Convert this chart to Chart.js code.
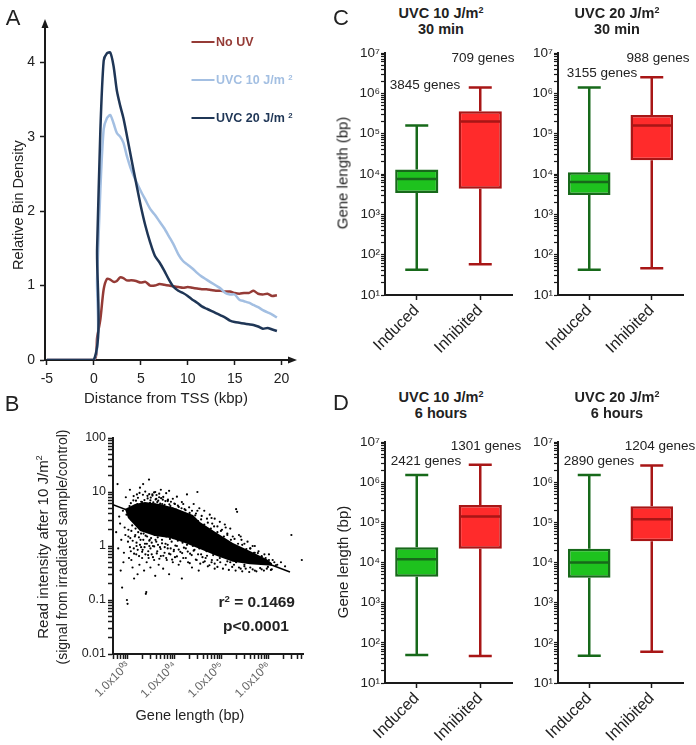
<!DOCTYPE html>
<html>
<head>
<meta charset="utf-8">
<script src="https://cdn.jsdelivr.net/npm/chart.js@4.4.1/dist/chart.umd.min.js"></script>
<style>
  html, body { margin: 0; padding: 0; background: #fff; overflow: hidden; }
  body { width: 696px; height: 745px; position: relative; font-family: "Liberation Sans", Arial, sans-serif; color: #222; }
  .txt { position: absolute; white-space: nowrap; transform: translate(-50%, -50%); line-height: 1; }
  .rot { transform: translate(-50%, -50%) rotate(-90deg); }
  .b { font-weight: bold; }
  .sup { font-size: 0.62em; vertical-align: 0.55em; }
</style>
</head>
<body>
<script>
// ── Panel A: relative bin density vs distance from TSS ─────────────────────
const distKbp  = [-5, 0, 0.35, 0.7, 1.05, 1.4, 1.75, 2.1, 2.45, 2.8, 3.15, 3.5, 4, 4.5, 5, 5.5, 6, 6.5, 7, 7.5, 8, 8.5, 9, 9.5, 10, 10.5, 11, 11.5, 12, 12.5, 13, 13.5, 14, 14.5, 15, 15.5, 16, 16.5, 17, 17.5, 18, 18.5, 19, 19.5];
const densNoUV = [0, 0, 0.3, 0.55, 0.95, 1.09, 1.08, 1.05, 1.06, 1.11, 1.1, 1.07, 1.07, 1.06, 1.04, 1.05, 1.0, 1.0, 1.02, 1.01, 1.0, 0.99, 0.98, 0.97, 0.98, 0.97, 0.96, 0.95, 0.95, 0.94, 0.93, 0.93, 0.92, 0.92, 0.9, 0.89, 0.9, 0.9, 0.93, 0.89, 0.88, 0.89, 0.86, 0.87];
const densUV10 = [0, 0, 1.1, 2.3, 3.1, 3.25, 3.29, 3.18, 3.05, 3.0, 2.92, 2.75, 2.55, 2.4, 2.27, 2.15, 2.03, 1.95, 1.86, 1.77, 1.66, 1.55, 1.42, 1.33, 1.28, 1.23, 1.17, 1.12, 1.08, 1.04, 1.0, 0.96, 0.9, 0.88, 0.88, 0.81, 0.79, 0.77, 0.74, 0.71, 0.67, 0.64, 0.61, 0.57];
const densUV20 = [0, 0, 1.5, 3.1, 4.02, 4.12, 4.13, 3.95, 3.62, 3.42, 3.25, 3.03, 2.7, 2.38, 2.07, 1.8, 1.58, 1.4, 1.31, 1.2, 1.08, 0.98, 0.93, 0.9, 0.86, 0.81, 0.77, 0.72, 0.69, 0.66, 0.63, 0.6, 0.57, 0.53, 0.51, 0.5, 0.49, 0.48, 0.47, 0.45, 0.42, 0.43, 0.41, 0.39];
const seriesNames = ['No UV', 'UVC 10 J/m <span class="sup">2</span>', 'UVC 20 J/m <span class="sup">2</span>'];

// ── Panel B: [gene length (bp), read intensity] pairs ──
const cloud = [
  [600, 14], [650, 3.5], [700, 0.35], [750, 0.17], [800, 0.5], [850, 2.2], [900, 8], [950, 0.1], [980, 0.085], [1000, 1.2],
  [1050, 0.6], [1100, 11], [1150, 0.8], [1200, 3], [1250, 0.4], [1300, 7], [1350, 0.25], [1400, 1.5], [1500, 0.7], [1550, 9],
  [1600, 0.3], [1700, 2.5], [1750, 0.45], [1800, 12], [1900, 0.95], [2000, 0.6], [2100, 14], [2200, 0.35], [2300, 1.1], [2400, 0.13],
  [2450, 0.14], [2500, 0.5], [2600, 8.5], [2700, 0.8], [2800, 17], [2900, 1.3], [3000, 0.4],
  [560, 1.8], [620, 0.9], [680, 2.6], [720, 1.3], [780, 4.5], [820, 0.75], [880, 1.6], [930, 3.8], [1020, 2.0], [1080, 5.5],
  [1120, 1.4], [1180, 0.55], [1230, 2.4], [1280, 4.2], [1330, 0.9], [1380, 3.3], [1450, 2.1], [1520, 1.0], [1580, 6], [1650, 1.8],
  [1720, 0.65], [1780, 3.0], [1850, 1.3], [1950, 2.6], [2050, 0.85], [2150, 1.7], [2250, 3.6], [2350, 0.7], [2550, 1.5], [2650, 2.1],
  [2750, 0.6], [2850, 1.0],
  [3200, 0.7], [3400, 1.0], [3600, 0.55], [3800, 0.28], [4000, 1.2], [4200, 0.8], [4500, 0.45], [4800, 0.95], [5000, 0.65], [5300, 1.3],
  [5600, 0.38], [6000, 0.75], [6300, 1.1], [6700, 0.55], [7000, 0.9], [7500, 0.3], [8000, 0.7], [8500, 1.2], [9000, 0.5], [9500, 0.85],
  [10000, 0.62], [11000, 1.0], [12000, 0.45], [13000, 0.78], [14000, 0.25], [15000, 0.6], [17000, 0.9], [19000, 0.5], [21000, 0.72], [23000, 0.4],
  [26000, 0.85], [29000, 0.55], [32000, 0.35], [36000, 0.7], [40000, 0.5], [45000, 0.6], [50000, 0.42], [60000, 0.5], [70000, 0.38], [80000, 0.55],
  [3100, 1.4], [3700, 1.6], [4300, 1.45], [5200, 1.7], [6500, 1.5], [7800, 1.35], [9200, 1.4], [11500, 1.25], [14500, 1.15], [18000, 1.05],
  [24000, 1.0], [33000, 0.9], [47000, 0.8], [65000, 0.68], [90000, 0.6], [130000, 0.52], [180000, 0.45],
  [3000, 7], [3300, 9], [3500, 5.5], [3800, 10], [4200, 6.5], [4600, 8], [5000, 11], [5500, 7.2], [6000, 5.8], [6500, 9.5],
  [7000, 6.8], [7500, 10.5], [8000, 5.5], [9000, 7.5], [10000, 6], [11000, 8.2], [12000, 5.3], [14000, 6.5], [16000, 4.8], [18000, 9],
  [20000, 5.2], [23000, 4.5], [25000, 6], [28000, 4], [30000, 10], [33000, 5], [37000, 3.6], [42000, 4.5], [48000, 3.2], [55000, 3.8],
  [62000, 2.6], [70000, 3.2], [80000, 2.3], [90000, 2.8], [100000, 2.0], [115000, 2.5], [130000, 1.7], [150000, 2.1], [170000, 1.5], [200000, 4.8],
  [210000, 4.3], [230000, 1.6], [260000, 1.3], [300000, 1.1], [350000, 1.2], [400000, 0.9], [450000, 1.0], [500000, 0.75], [600000, 0.8], [700000, 0.65],
  [800000, 0.7], [1200000, 0.55], [1500000, 0.45], [1800000, 0.5], [2200000, 0.42], [3000000, 1.6], [5000000, 0.55], [1100000, 0.36], [900000, 0.38], [700000, 0.37],
  [500000, 0.35], [400000, 0.4], [300000, 0.45], [250000, 0.38], [200000, 0.5],
  [1200, 4], [1500, 5], [1800, 3.3], [2000, 6.5], [2200, 4.2], [2600, 3], [3000, 2.7], [1400, 2.8], [1700, 3.8], [2400, 2.3],
  [3500, 2.2], [4500, 2.0], [6000, 1.8], [8000, 1.6], [12000, 1.4], [20000, 1.2], [40000, 0.95], [80000, 0.7], [150000, 0.5], [300000, 0.42],
  [4000, 7.5], [7000, 7], [15000, 6], [30000, 4.5], [60000, 3.3], [120000, 2.2], [250000, 1.5], [500000, 1.0], [1000000, 0.7],
  [1050, 4.2], [1150, 6.2], [1250, 5.1], [1320, 8.4], [1420, 4.6], [1480, 6.9], [1560, 5.4], [1630, 7.8], [1690, 4.3], [1760, 9.6],
  [1830, 5.8], [1910, 6.6], [1990, 4.9], [2080, 8.9], [2160, 5.2], [2240, 7.1], [2330, 10.2], [2420, 6.0], [2510, 4.6], [2620, 7.6],
  [2710, 5.5], [2830, 9.1], [2940, 6.3], [3060, 7.9], [3180, 5.1], [3320, 8.6], [3460, 6.4], [3590, 9.8], [3730, 5.9], [3880, 7.3],
  [4050, 8.8], [4230, 5.6], [4400, 6.9], [4620, 9.3], [4850, 6.1], [5070, 7.7], [5350, 6.0], [5620, 8.1], [5900, 5.4], [6250, 6.8],
  [6600, 5.2], [7100, 7.2], [7600, 5.9], [8200, 6.6], [8900, 5.0], [9700, 6.1], [10500, 4.7], [11500, 5.6], [12600, 4.4], [13800, 5.0],
  [15200, 3.9], [16800, 4.6], [18500, 3.6], [20500, 4.1], [23500, 3.2], [27000, 3.7], [31000, 2.9], [36000, 3.1], [42000, 2.5], [50000, 2.7],
  [58000, 2.1], [68000, 2.3], [80000, 1.8], [95000, 1.9], [110000, 1.5], [130000, 1.6], [155000, 1.3], [185000, 1.35], [220000, 1.1], [270000, 1.05],
  [330000, 0.88], [400000, 0.9], [480000, 0.75], [580000, 0.74], [700000, 0.63], [850000, 0.6], [1000000, 0.55], [1300000, 0.5],
  [1020, 1.5], [1100, 0.95], [1180, 1.9], [1260, 1.25], [1350, 0.72], [1430, 1.6], [1520, 1.15], [1610, 0.85], [1710, 1.45], [1800, 1.05],
  [1900, 1.7], [2000, 0.78], [2120, 1.3], [2250, 0.95], [2380, 1.55], [2520, 1.1], [2680, 0.68], [2840, 1.25], [3010, 0.9], [3200, 1.15],
  [3400, 0.62], [3610, 0.98], [3850, 1.3], [4100, 0.73], [4350, 1.05], [4650, 0.58], [4950, 0.88], [5300, 1.12], [5650, 0.66], [6050, 0.95],
  [6500, 0.6], [7000, 1.05], [7500, 0.72], [8100, 0.9], [8700, 0.56], [9400, 0.8], [10200, 1.02], [11000, 0.64], [12000, 0.86], [13000, 0.52],
  [14200, 0.74], [15500, 0.93], [17000, 0.6], [18700, 0.79], [20600, 0.48], [22700, 0.68], [25000, 0.82], [27800, 0.56], [31000, 0.7], [34500, 0.47],
  [38500, 0.62], [43000, 0.52], [48000, 0.66], [54000, 0.44], [61000, 0.55], [70000, 0.47], [80000, 0.41], [92000, 0.5], [105000, 0.38], [120000, 0.45],
  [140000, 0.36], [165000, 0.41], [195000, 0.35], [230000, 0.4], [270000, 0.34], [320000, 0.38], [380000, 0.33], [450000, 0.37], [540000, 0.34], [650000, 0.39],
  [780000, 0.35], [950000, 0.41], [1150000, 0.37], [1400000, 0.44]
];
// outline of the saturated (solid black) part of the cloud
const coreLen = [863, 1410, 2300, 4800, 10000, 24200, 34000, 78300, 171000, 394000, 906000, 1160000, 1160000, 394000, 171000, 78300, 34000, 16300, 7830, 3750, 1800, 1000];
const coreInt = [4.84, 6.0, 6.5, 6.0, 5.05, 3.75, 2.78, 1.74, 1.14, 0.81, 0.57, 0.48, 0.43, 0.46, 0.51, 0.65, 0.88, 1.14, 1.41, 1.53, 1.9, 3.3];
const fitLen = [480, 2800000];
const fitInt = [5.8, 0.33];

// ── Panels C/D: gene length box plots (C 10, C 20, D 10, D 20) ─────────────
const groups     = ['Induced', 'Inhibited'];
const boxMin     = [[42, 58], [42, 46], [50, 47], [48, 60]];
const boxQ1      = [[3400, 4300], [3000, 22000], [4400, 22000], [4200, 34000]];
const boxMedian  = [[7500, 200000], [6300, 160000], [12000, 140000], [10000, 120000]];
const boxQ3      = [[13000, 360000], [11000, 290000], [24000, 270000], [22000, 250000]];
const boxMax     = [[160000, 1400000], [1400000, 2500000], [1500000, 2700000], [1500000, 2600000]];
const geneCounts = [[3845, 709], [3155, 988], [2421, 1301], [2890, 1204]];

// ── Styling ───────────────────────────────────────────────────────────────
const AX = '#1a1a1a';
const lineColors = ['#953b36', '#a3bfe2', '#1f3656'];
const boxFill    = ['#1ec21e', '#ff2b2b'];
const boxEdge    = ['#17691a', '#a81616'];
Chart.defaults.font.family = '"Liberation Sans", Arial, sans-serif';
Chart.defaults.color = '#222';

const SUP = '⁰¹²³⁴⁵⁶⁷⁸⁹';
const sup = s => String(s).split('').map(c => SUP[c]).join('');
const isDecade = v => Math.abs(Math.log10(v) - Math.round(Math.log10(v))) < 1e-6;
function logTicks(lo, hi) {
  const t = [];
  for (let e = lo; e < hi; e++) for (let m = 1; m < 10; m++) t.push(m * Math.pow(10, e));
  t.push(Math.pow(10, hi));
  return t;
}

// ── Helpers ───────────────────────────────────────────────────────────────
function mkCanvas(x, y, w, h) {
  const c = document.createElement('canvas');
  c.width = w; c.height = h;
  c.style.cssText = `position:absolute;left:${x}px;top:${y}px;width:${w}px;height:${h}px`;
  document.body.appendChild(c);
  return c;
}
function txt(html, x, y, style, cls) {
  const d = document.createElement('div');
  d.className = 'txt ' + (cls || '');
  d.innerHTML = html;
  d.style.cssText = `left:${x}px;top:${y}px;` + (style || '');
  document.body.appendChild(d);
  return d;
}
function axis(extra) {
  return Object.assign({
    grid:   { drawOnChartArea: false, tickLength: 5, tickColor: AX, tickWidth: 1.5 },
    border: { color: AX, width: 2 },
  }, extra);
}
const baseOpts = (pad) => ({
  responsive: false, animation: false,
  layout: { padding: pad },
  plugins: { legend: { display: false }, tooltip: { enabled: false } },
});

// ── Plugins ───────────────────────────────────────────────────────────────
const axisArrows = {
  id: 'axisArrows',
  afterDraw(chart) {
    const { ctx, chartArea: { left, top, right, bottom } } = chart;
    ctx.save();
    ctx.fillStyle = AX;
    ctx.beginPath(); ctx.moveTo(left, top - 6); ctx.lineTo(left - 3.5, top + 3); ctx.lineTo(left + 3.5, top + 3); ctx.fill();
    ctx.beginPath(); ctx.moveTo(right + 6, bottom); ctx.lineTo(right - 3, bottom - 3.5); ctx.lineTo(right - 3, bottom + 3.5); ctx.fill();
    ctx.restore();
  }
};

const denseCore = {
  id: 'denseCore',
  beforeDatasetsDraw(chart) {
    const { ctx, scales: { x, y }, chartArea: a } = chart;
    ctx.save();
    ctx.beginPath(); ctx.rect(a.left, a.top, a.width, a.height); ctx.clip();
    ctx.fillStyle = '#000';
    ctx.beginPath();
    coreLen.forEach((v, i) => {
      const px = x.getPixelForValue(v), py = y.getPixelForValue(coreInt[i]);
      i ? ctx.lineTo(px, py) : ctx.moveTo(px, py);
    });
    ctx.closePath(); ctx.fill();
    ctx.restore();
  }
};

const boxWhiskers = {
  id: 'boxWhiskers',
  afterDatasetsDraw(chart) {
    const { ctx, scales: { x, y } } = chart;
    const ds = chart.data.datasets[0];
    const meta = chart.getDatasetMeta(0);
    const s = ds.stats;
    ctx.save();
    ctx.lineWidth = 2.5;
    s.min.forEach((lo, i) => {
      const cx = x.getPixelForValue(i);
      const half = meta.data[i].width / 2 - 1;
      const cap = 11.5;
      const yLo = y.getPixelForValue(lo), yHi = y.getPixelForValue(s.max[i]);
      const yQ1 = y.getPixelForValue(s.q1[i]), yQ3 = y.getPixelForValue(s.q3[i]);
      const yMed = y.getPixelForValue(s.med[i]);
      ctx.strokeStyle = boxEdge[i];
      ctx.beginPath();
      ctx.moveTo(cx, yLo); ctx.lineTo(cx, yQ1);
      ctx.moveTo(cx, yQ3); ctx.lineTo(cx, yHi);
      ctx.moveTo(cx - cap, yLo); ctx.lineTo(cx + cap, yLo);
      ctx.moveTo(cx - cap, yHi); ctx.lineTo(cx + cap, yHi);
      ctx.moveTo(cx - half, yMed); ctx.lineTo(cx + half, yMed);
      ctx.stroke();
    });
    ctx.restore();
  }
};

// ── Panel A ───────────────────────────────────────────────────────────────
const pts = arr => distKbp.map((d, i) => ({ x: d, y: arr[i] }));
new Chart(mkCanvas(0, 0, 310, 395), {
  type: 'scatter',
  data: {
    datasets: [densUV20, densUV10, densNoUV].map((arr, k) => ({
      data: pts(arr), showLine: true, pointRadius: 0, tension: 0.25,
      borderColor: lineColors[2 - k], borderWidth: 2.5,
    })),
  },
  options: Object.assign(baseOpts({ left: 0, top: 25, right: 19, bottom: 0 }), {
    scales: {
      x: axis({
        type: 'linear', min: -5.2, max: 21,
        afterBuildTicks: s => { s.ticks = [-5, 0, 5, 10, 15, 20].map(v => ({ value: v })); },
        afterFit: s => { s.height = 35; },
        ticks: { font: { size: 14 }, padding: 6, maxRotation: 0 },
      }),
      y: axis({
        min: 0, max: 4.5,
        afterBuildTicks: s => { s.ticks = [0, 1, 2, 3, 4].map(v => ({ value: v })); },
        afterFit: s => { s.width = 45; },
        ticks: { font: { size: 14 }, padding: 5 },
      }),
    },
  }),
  plugins: [axisArrows],
});
txt('A', 13, 18, 'font-size:22px');
txt('Relative Bin Density', 18, 205, 'font-size:14.5px', 'rot');
txt('Distance from TSS (kbp)', 166, 397, 'font-size:15px');
seriesNames.forEach((name, i) => {
  const y = 42 + i * 38;
  txt('', 203, y, `width:23px;height:0;border-top:2.5px solid ${lineColors[i]}`);
  txt(name, 216, y, `font-size:12.5px;color:${lineColors[i]};transform:translate(0,-50%)`, 'b');
});

// ── Panel B ───────────────────────────────────────────────────────────────
new Chart(mkCanvas(0, 400, 320, 300), {
  type: 'scatter',
  data: {
    datasets: [
      { data: fitLen.map((v, i) => ({ x: v, y: fitInt[i] })), showLine: true, pointRadius: 0, borderColor: '#000', borderWidth: 1.5 },
      { data: cloud.map(([len, val]) => ({ x: len, y: val })), pointRadius: 1.1, pointBorderWidth: 0, backgroundColor: '#000' },
    ],
  },
  options: Object.assign(baseOpts({ left: 0, top: 38, right: 17, bottom: 0 }), {
    scales: {
      x: axis({
        type: 'logarithmic', min: 480, max: 5.3e6,
        afterBuildTicks: s => { s.ticks = logTicks(2, 7).filter(v => v >= 480 && v <= 5.3e6).map(v => ({ value: v })); },
        afterFit: s => { s.height = 46; },
        ticks: {
          autoSkip: false, minRotation: 45, maxRotation: 45, padding: 0, color: '#666', font: { size: 12 },
          callback: v => isDecade(v) ? '1.0x10' + sup(String(Math.round(Math.log10(v))).padStart(2, '0')) : '',
        },
      }),
      y: axis({
        type: 'logarithmic', min: 0.01, max: 100,
        afterBuildTicks: s => { s.ticks = logTicks(-2, 2).map(v => ({ value: v })); },
        afterFit: s => { s.width = 113; },
        ticks: { autoSkip: false, padding: 2, font: { size: 12.5 }, callback: v => isDecade(v) ? String(+v.toPrecision(1)) : '' },
      }),
    },
  }),
  plugins: [denseCore],
});
txt('B', 12, 404, 'font-size:22px');
txt('Read intensity after 10 J/m<span class="sup">2</span>', 42, 547, 'font-size:15px', 'rot');
txt('(signal from irradiated sample/control)', 62, 547, 'font-size:14px', 'rot');
txt('Gene length (bp)', 190, 715, 'font-size:14.5px');
txt('r<span class="sup">2</span> = 0.1469', 295, 602, 'font-size:15.5px;transform:translate(-100%,-50%)', 'b');
txt('p&lt;0.0001', 256, 626, 'font-size:15.5px', 'b');

// ── Panels C / D ──────────────────────────────────────────────────────────
const boxPanels = [
  { x: 335, y: 40,  w: 190, h: 320, padTop: 13, xH: 65, title: ['UVC 10 J/m<span class="sup">2</span>', '30 min'],  tx: 441, ty: 13,  counts: [[425, 85], [483, 58]] },
  { x: 508, y: 40,  w: 188, h: 320, padTop: 13, xH: 65, title: ['UVC 20 J/m<span class="sup">2</span>', '30 min'],  tx: 617, ty: 13,  counts: [[602, 73], [658, 58]] },
  { x: 335, y: 430, w: 190, h: 315, padTop: 12, xH: 62, title: ['UVC 10 J/m<span class="sup">2</span>', '6 hours'], tx: 441, ty: 397, counts: [[426, 461], [486, 446]] },
  { x: 508, y: 430, w: 188, h: 315, padTop: 12, xH: 62, title: ['UVC 20 J/m<span class="sup">2</span>', '6 hours'], tx: 617, ty: 397, counts: [[599, 461], [660, 446]] },
];
boxPanels.forEach((p, k) => {
  new Chart(mkCanvas(p.x, p.y, p.w, p.h), {
    type: 'bar',
    data: {
      labels: groups,
      datasets: [{
        data: boxQ1[k].map((v, i) => [v, boxQ3[k][i]]),
        backgroundColor: boxFill, borderColor: boxEdge, borderWidth: 2.5, borderSkipped: false,
        barPercentage: 0.68, categoryPercentage: 1,
        stats: { min: boxMin[k], q1: boxQ1[k], med: boxMedian[k], q3: boxQ3[k], max: boxMax[k] },
      }],
    },
    options: Object.assign(baseOpts({ left: 0, top: p.padTop, right: 13, bottom: 0 }), {
      scales: {
        x: axis({
          grid: { offset: false, drawOnChartArea: false, tickLength: 5, tickColor: AX, tickWidth: 1.5 },
          afterFit: s => { s.height = p.xH; },
          ticks: { minRotation: 45, maxRotation: 45, padding: 1, font: { size: 16 } },
        }),
        y: axis({
          type: 'logarithmic', min: 10, max: 1e7,
          afterBuildTicks: s => { s.ticks = logTicks(1, 7).map(v => ({ value: v })); },
          afterFit: s => { s.width = 50; },
          grid: { drawOnChartArea: false, tickLength: 4, tickColor: AX, tickWidth: 1.2 },
          ticks: { autoSkip: false, padding: 1, font: { size: 13.5 }, callback: v => isDecade(v) ? '10' + sup(Math.round(Math.log10(v))) : '' },
        }),
      },
    }),
    plugins: [boxWhiskers],
  });
  txt(p.title[0], p.tx, p.ty, 'font-size:14.5px', 'b');
  txt(p.title[1], p.tx, p.ty + 16, 'font-size:14.5px', 'b');
  p.counts.forEach((c, i) => txt(geneCounts[k][i] + ' genes', c[0], c[1], 'font-size:13.5px'));
  if (k % 2 === 0) txt('Gene length (bp)', 342, p.y + p.padTop + 120, 'font-size:15px', 'rot');
});
txt('C', 341, 18, 'font-size:22px');
txt('D', 341, 403, 'font-size:22px');
</script>
</body>
</html>
